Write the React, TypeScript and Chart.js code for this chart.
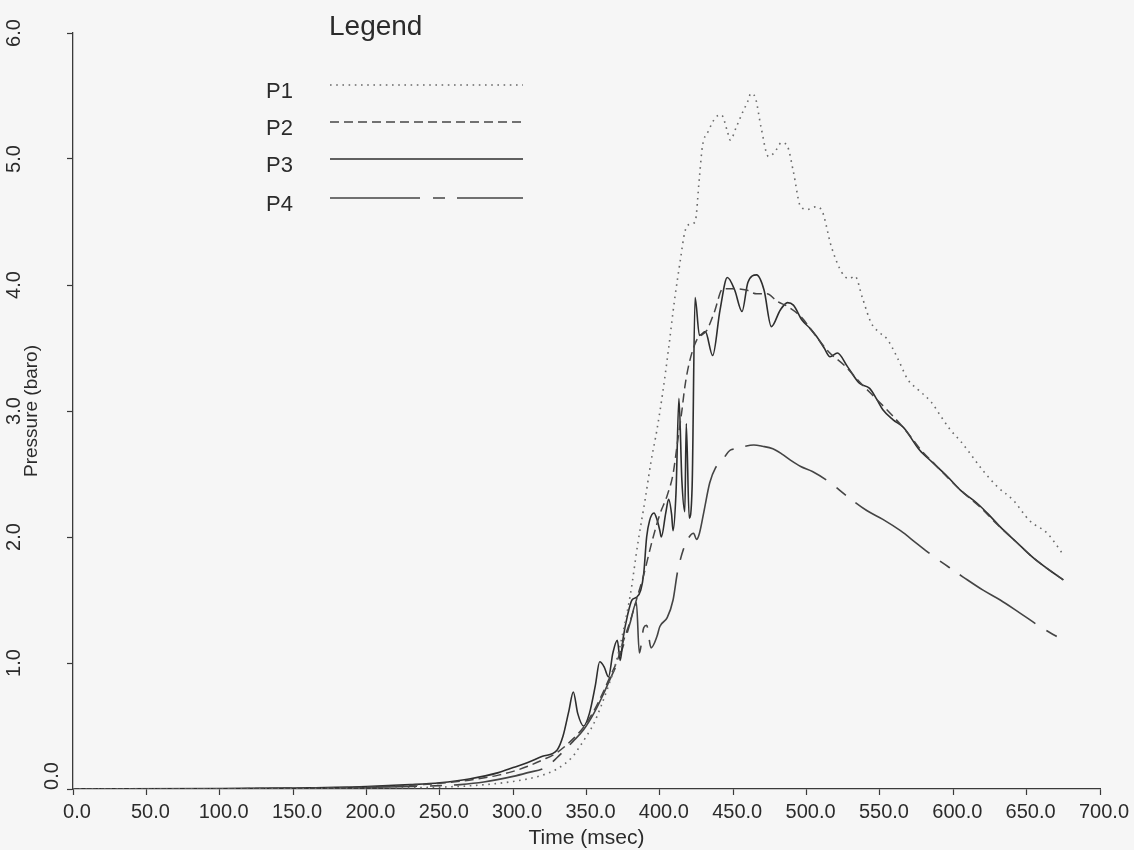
import React, { useEffect, useRef } from 'react';
import { Chart, registerables } from 'chart.js';

Chart.register(...registerables);

const FONT = '"Liberation Sans", Arial, Helvetica, sans-serif';
const TEXT = '#2b2b2b';
const AXIS = '#3a3a3a';

// ---- axis / tick definitions ----
const X_MIN = 0;
const X_MAX = 700;
const X_STEP = 50;
const Y_MIN = 0;
const Y_MAX = 6;
const Y_STEP = 1;
const X_TITLE = 'Time (msec)';
const Y_TITLE = 'Pressure (baro)';
const LEGEND_TITLE = 'Legend';
const SERIES_NAMES = ['P1', 'P2', 'P3', 'P4'];

// ---- P1 (dotted) ----
const p1Time = [0, 100, 150, 200, 230, 250, 270, 290, 300, 310, 320, 330, 340, 345, 350, 355, 360, 365, 370, 375, 380, 385, 390, 394, 398, 402, 406, 410, 414, 417, 420, 424, 427, 429, 433, 438, 442, 446, 448, 452, 456, 460, 462, 465, 469, 474, 478, 483, 487, 491, 496, 501, 506, 510, 517, 524, 529, 533, 538, 544, 550, 555, 562, 569, 576, 585, 592, 598, 605, 611, 620, 630, 641, 652, 664, 675];
const p1Pressure = [0, 0, 0.002, 0.005, 0.01, 0.015, 0.025, 0.045, 0.06, 0.08, 0.11, 0.16, 0.25, 0.33, 0.42, 0.52, 0.66, 0.82, 1.0, 1.25, 1.55, 1.95, 2.3, 2.6, 2.85, 3.15, 3.5, 3.88, 4.2, 4.42, 4.48, 4.5, 4.86, 5.1, 5.22, 5.33, 5.35, 5.22, 5.15, 5.25, 5.36, 5.46, 5.52, 5.49, 5.25, 5.02, 5.05, 5.13, 5.1, 4.9, 4.62, 4.6, 4.62, 4.6, 4.3, 4.1, 4.05, 4.07, 3.9, 3.7, 3.62, 3.57, 3.42, 3.25, 3.17, 3.07, 2.95, 2.85, 2.76, 2.67, 2.53, 2.4, 2.29, 2.13, 2.03, 1.86];

// ---- P2 (dashed) ----
const p2Time = [0, 100, 150, 200, 230, 250, 270, 290, 300, 310, 320, 330, 341, 348, 355, 361, 366, 371, 375, 380, 384, 389, 395, 400, 405, 409, 412, 415, 417, 420, 425, 432, 437, 443, 452, 459, 466, 473, 480, 487, 496, 506, 515, 526, 537, 548, 558, 568, 578, 588, 598, 608, 618, 630, 642, 653, 664, 675];
const p2Pressure = [0, 0.002, 0.006, 0.015, 0.03, 0.045, 0.07, 0.11, 0.14, 0.18, 0.23, 0.29, 0.4, 0.49, 0.62, 0.76, 0.89, 1.02, 1.17, 1.34, 1.5, 1.7, 1.98, 2.18, 2.33, 2.5, 2.75, 3.0, 3.19, 3.38, 3.56, 3.64, 3.78, 3.97, 3.97, 3.96, 3.93, 3.93, 3.87, 3.83, 3.75, 3.6, 3.47, 3.36, 3.22, 3.09, 2.97, 2.84, 2.69, 2.57, 2.45, 2.34, 2.24, 2.1, 1.97, 1.85, 1.75, 1.66];

// ---- P3 (solid) ----
const p3Time = [0, 100, 150, 200, 230, 250, 270, 290, 300, 310, 320, 330, 334, 338, 341, 344, 348, 352, 356, 359, 362, 365, 368, 371, 373, 375, 378, 381, 384, 387, 389, 391, 393, 396, 398, 400, 401, 404, 406, 408, 409, 411, 413, 415, 417, 418, 420, 422, 424, 427, 431, 436, 441, 446, 451, 456, 460, 466, 471, 476, 482, 487, 491, 497, 502, 507, 512, 516, 521, 528, 536, 543, 548, 552, 559, 566, 577, 586, 596, 605, 616, 624, 632, 643, 654, 664, 675];
const p3Pressure = [0, 0.003, 0.008, 0.02, 0.035, 0.05, 0.08, 0.13, 0.17, 0.21, 0.26, 0.31, 0.42, 0.62, 0.77, 0.6, 0.5, 0.6, 0.82, 1.01, 0.97, 0.89, 1.08, 1.18, 1.02, 1.2, 1.38, 1.5, 1.52, 1.58, 1.71, 2.0, 2.13, 2.19, 2.14, 2.05, 2.0, 2.19, 2.3, 2.18, 2.05, 2.35, 3.1, 2.45, 2.2, 2.9, 2.15, 2.4, 3.9, 3.6, 3.63, 3.44, 3.8, 4.06, 3.96, 3.79, 4.02, 4.08, 3.96, 3.67, 3.8, 3.86, 3.84, 3.72, 3.66, 3.59, 3.5, 3.43, 3.46, 3.35, 3.22, 3.18, 3.09, 3.01, 2.93, 2.87, 2.69, 2.59, 2.48, 2.37, 2.27, 2.18, 2.08, 1.96, 1.84, 1.75, 1.66];

// ---- P4 (long dash – short dash) ----
const p4Time = [0, 100, 150, 200, 230, 250, 264, 280, 300, 310, 322, 330, 341, 348, 355, 361, 366, 371, 376, 380, 384, 386, 389, 391, 394, 398, 400, 405, 409, 412, 416, 420, 423, 425, 427, 430, 434, 438, 442, 448, 452, 458, 464, 470, 477, 483, 489, 496, 504, 515, 528, 541, 552, 564, 575, 586, 597, 607, 620, 632, 645, 659, 675];
const p4Pressure = [0, 0.002, 0.005, 0.012, 0.02, 0.027, 0.035, 0.055, 0.1, 0.13, 0.17, 0.25, 0.38, 0.47, 0.6, 0.74, 0.87, 1.0, 1.17, 1.33, 1.48, 1.08, 1.28, 1.3, 1.12, 1.21, 1.29, 1.36, 1.5, 1.72, 1.9, 2.0, 2.03, 1.98, 2.03, 2.2, 2.43, 2.55, 2.6, 2.69, 2.7, 2.72, 2.73, 2.72, 2.7, 2.66, 2.61, 2.56, 2.52, 2.44, 2.32, 2.21, 2.14, 2.05, 1.95, 1.85, 1.76, 1.68, 1.58, 1.5, 1.4, 1.29, 1.18];

const toPoints = (t: number[], p: number[]) => t.map((x, i) => ({ x, y: p[i] }));

const legendPlugin = {
  id: 'insetLegend',
  afterDatasetsDraw(chart: any) {
    const ctx = chart.ctx as CanvasRenderingContext2D;
    ctx.save();
    ctx.fillStyle = TEXT;
    ctx.textAlign = 'left';
    ctx.textBaseline = 'alphabetic';
    ctx.font = `28px ${FONT}`;
    ctx.fillText(LEGEND_TITLE, 329, 35);
    const rows = [85, 122, 159, 198];
    chart.data.datasets.forEach((ds: any, i: number) => {
      const y = rows[i];
      ctx.font = `22px ${FONT}`;
      ctx.fillStyle = TEXT;
      ctx.setLineDash([]);
      ctx.fillText(ds.label, 266, y + 13);
      ctx.strokeStyle = ds.borderColor;
      ctx.lineWidth = ds.borderWidth;
      ctx.setLineDash(ds.borderDash || []);
      ctx.beginPath();
      ctx.moveTo(330, y);
      ctx.lineTo(523, y);
      ctx.stroke();
    });
    ctx.restore();
  },
};

export default function App() {
  const canvasRef = useRef<HTMLCanvasElement | null>(null);

  useEffect(() => {
    if (!canvasRef.current) return;
    Chart.defaults.font.family = FONT;
    const common = {
      pointRadius: 0,
      pointHoverRadius: 0,
      fill: false,
      cubicInterpolationMode: 'monotone' as const,
      borderJoinStyle: 'round' as const,
    };
    const chart = new Chart(canvasRef.current, {
      type: 'line',
      data: {
        datasets: [
          { ...common, label: SERIES_NAMES[0], data: toPoints(p1Time, p1Pressure), borderColor: '#6a6a6a', borderWidth: 1.6, borderDash: [1.6, 4.6] },
          { ...common, label: SERIES_NAMES[1], data: toPoints(p2Time, p2Pressure), borderColor: '#454545', borderWidth: 1.5, borderDash: [9, 5] },
          { ...common, label: SERIES_NAMES[2], data: toPoints(p3Time, p3Pressure), borderColor: '#2e2e2e', borderWidth: 1.6, borderDash: [] },
          { ...common, label: SERIES_NAMES[3], data: toPoints(p4Time, p4Pressure), borderColor: '#444444', borderWidth: 1.6, borderDash: [90, 13, 12, 12] },
        ],
      },
      options: {
        animation: false,
        responsive: true,
        maintainAspectRatio: false,
        layout: { padding: { top: 33, right: 34, bottom: 0, left: 0 } },
        plugins: {
          legend: { display: false },
          tooltip: { enabled: false },
          title: { display: false },
        },
        scales: {
          x: {
            type: 'linear',
            min: X_MIN,
            max: X_MAX,
            ticks: {
              stepSize: X_STEP,
              autoSkip: false,
              maxRotation: 0,
              minRotation: 0,
              padding: 5,
              labelOffset: 4,
              color: TEXT,
              font: { size: 20, family: FONT },
              callback: (v: any) => Number(v).toFixed(1),
            },
            grid: { display: true, drawOnChartArea: false, drawTicks: true, tickLength: 6, tickWidth: 1.2, color: AXIS },
            border: { display: true, color: AXIS, width: 1.3 },
            title: { display: true, text: X_TITLE, color: TEXT, font: { size: 21, family: FONT }, padding: { top: 0, bottom: -1 } },
            afterFit: (s: any) => { s.height = 61; },
          },
          y: {
            type: 'linear',
            position: 'left',
            weight: 0,
            min: Y_MIN,
            max: Y_MAX,
            ticks: {
              stepSize: Y_STEP,
              minRotation: 90,
              maxRotation: 90,
              crossAlign: 'center',
              padding: 1,
              labelOffset: -13,
              color: TEXT,
              font: { size: 20, family: FONT },
              callback: (v: any) => (Number(v) === 0 ? Number(v).toFixed(1) : ''),
            },
            grid: { display: true, drawOnChartArea: false, drawTicks: true, tickLength: 6, tickWidth: 1.2, color: AXIS },
            border: { display: true, color: AXIS, width: 1.3 },
            title: { display: true, text: Y_TITLE, color: TEXT, font: { size: 19, family: FONT }, padding: { top: -8, bottom: 0 } },
            afterFit: (s: any) => { s.width = 45; },
          },
          yl: {
            type: 'linear',
            position: 'left',
            weight: 1,
            min: Y_MIN,
            max: Y_MAX,
            ticks: {
              stepSize: Y_STEP,
              minRotation: 90,
              maxRotation: 90,
              crossAlign: 'center',
              padding: 0,
              color: TEXT,
              font: { size: 20, family: FONT },
              callback: (v: any) => (Number(v) === 0 ? '' : Number(v).toFixed(1)),
            },
            grid: { display: false, drawTicks: false, drawOnChartArea: false },
            border: { display: false },
            afterFit: (s: any) => { s.width = 28; },
          },
        },
      } as any,
      plugins: [legendPlugin],
    });
    return () => chart.destroy();
  }, []);

  return (
    <div style={{ position: 'absolute', left: 0, top: 0, width: 1134, height: 850, background: '#f6f6f6' }}>
      <canvas ref={canvasRef} />
    </div>
  );
}
